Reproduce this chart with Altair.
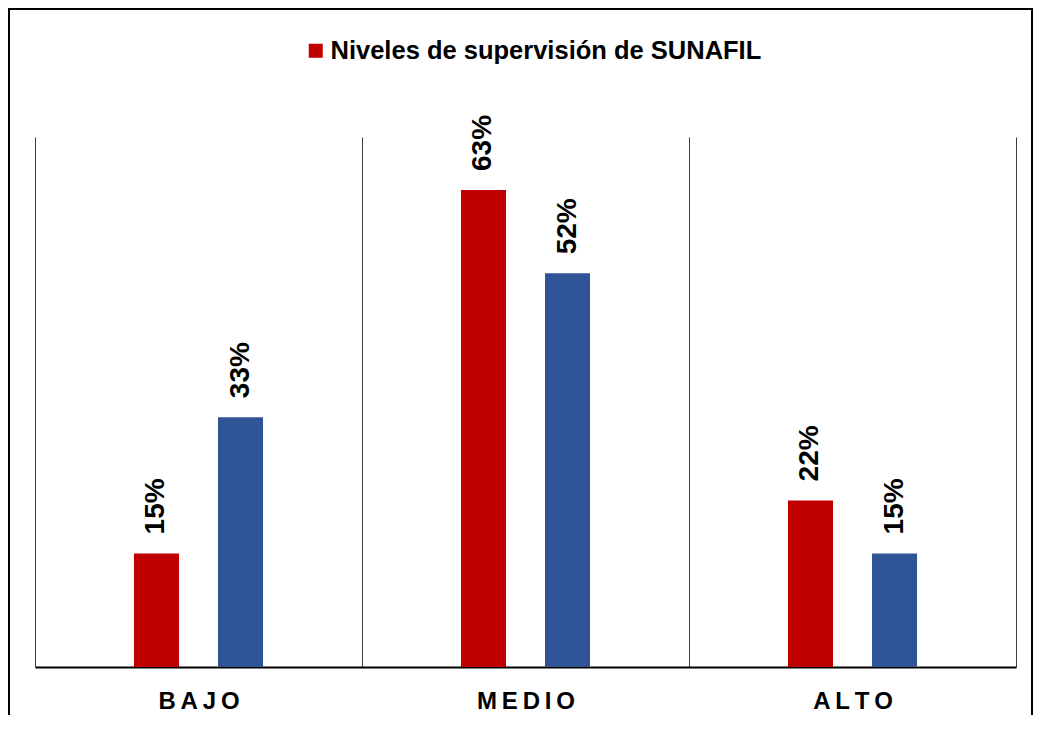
import altair as alt
import pandas as pd

categories = ["BAJO", "MEDIO", "ALTO"]
series_names = ["Niveles de supervisión de SUNAFIL", "Serie 2"]
red_values = [15, 63, 22]
blue_values = [33, 52, 15]
red_labels = ["15%", "63%", "22%"]
blue_labels = ["33%", "52%", "15%"]
series_colors = ["#C00000", "#2F5597"]

rows = []
for c, r, b, lr, lb in zip(categories, red_values, blue_values, red_labels, blue_labels):
    rows.append({"cat": c, "serie": series_names[0], "valor": r, "etiqueta": lr})
    rows.append({"cat": c, "serie": series_names[1], "valor": b, "etiqueta": lb})
df = pd.DataFrame(rows)

FONT = "Liberation Sans"

x_enc = alt.X(
    "cat:N",
    sort=categories,
    scale=alt.Scale(paddingInner=0, paddingOuter=0),
    axis=alt.Axis(
        title=None,
        labelExpr="join(split(datum.label, ''), '\u2009')",
        labelFont=FONT,
        labelFontSize=24,
        labelFontWeight="bold",
        labelColor="black",
        labelPadding=22,
        labelAngle=0,
        ticks=False,
        domain=True,
        domainColor="black",
        domainWidth=2,
        grid=True,
        gridColor="#404040",
        gridWidth=1,
        tickBand="extent",
    ),
)
xoff_enc = alt.XOffset(
    "serie:N",
    scale=alt.Scale(domain=["_izq"] + series_names + ["_der"], paddingInner=0.464, paddingOuter=0.178),
)
y_enc = alt.Y("valor:Q", scale=alt.Scale(domain=[0, 70], nice=False), axis=None)

base = alt.Chart(df)

bars = base.mark_bar().encode(
    x=x_enc,
    xOffset=xoff_enc,
    y=y_enc,
    color=alt.Color(
        "serie:N",
        scale=alt.Scale(domain=series_names, range=series_colors),
        legend=alt.Legend(
            values=[series_names[0]],
            orient="none",
            legendX=268,
            legendY=-99,
            title=None,
            symbolType="square",
            symbolSize=196,
            symbolStrokeWidth=0,
            labelFont=FONT,
            labelFontSize=25.5,
            labelFontWeight="bold",
            labelColor="black",
            labelOffset=2,
            labelLimit=900,
            padding=0,
        ),
    ),
)

text = base.mark_text(
    angle=270,
    align="left",
    baseline="middle",
    dx=19,
    font=FONT,
    fontSize=28,
    fontWeight="bold",
    color="black",
).encode(x=x_enc, xOffset=xoff_enc, y=y_enc, text="etiqueta:N")

border = alt.Chart(pd.DataFrame({"k": [0]})).mark_rect(
    fillOpacity=0, stroke="black", strokeWidth=2
).encode(
    x=alt.value(-26), x2=alt.value(997), y=alt.value(-128), y2=alt.value(700)
)

chart = alt.layer(border, bars, text).properties(
    width=981,
    height=530,
    autosize="none",
    padding={"left": 27, "top": 129, "right": 18, "bottom": 48},
    background="white",
).configure_view(stroke="transparent")

chart.save("out.html", embed_options={"renderer": "svg", "actions": False})
